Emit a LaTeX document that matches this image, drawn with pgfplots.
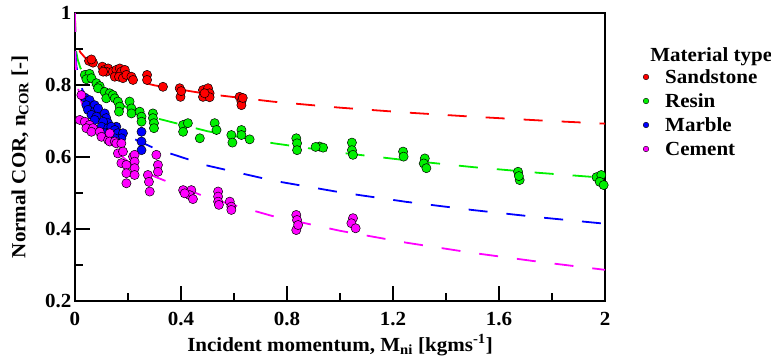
\documentclass[border=0pt]{standalone}
\usepackage{pgfplots}
\pgfplotsset{compat=1.18}
\usepackage{fontspec}
\setmainfont[FakeStretch=1.05]{Liberation Serif}
\definecolor{cR}{RGB}{255,0,0}
\definecolor{cG}{RGB}{0,240,0}
\definecolor{cB}{RGB}{0,0,255}
\definecolor{cM}{RGB}{255,0,255}
\newcommand{\lfont}{\fontsize{20}{24}\selectfont\bfseries}
\tikzset{
  legdot/.style={circle, draw=black, line width=0.4pt, inner sep=0pt, minimum size=5.6pt},
  legtxt/.style={anchor=west, inner sep=0pt, font=\lfont},
}
\begin{document}
\begin{tikzpicture}
\begin{axis}[
  scale only axis, width=530pt, height=288pt,
  xmin=0, xmax=2, ymin=0.2, ymax=1,
  xtick={0,0.4,0.8,1.2,1.6,2}, xticklabels={0,0.4,0.8,1.2,1.6,2},
  minor xtick={0.2,0.6,1.0,1.4,1.8},
  ytick={0.2,0.4,0.6,0.8,1}, yticklabels={0.2,0.4,0.6,0.8,1},
  minor ytick={0.3,0.5,0.7,0.9},
  tick align=inside, tick pos=left,
  major tick length=15pt, minor tick length=8pt,
  major tick style={line width=1.6pt, black},
  minor tick style={line width=1.6pt, black},
  axis line style={line width=1.6pt},
  tick label style={font=\lfont},
  xticklabel style={yshift=-8pt},
  xlabel={Incident momentum, M\textsubscript{ni} [kgms\textsuperscript{-1}]},
  ylabel={Normal COR, n\textsubscript{COR} [-]},
  every axis x label/.style={at={(axis description cs:0.5,-0.174)}, anchor=base, font=\lfont},
  every axis y label/.style={at={(axis description cs:-0.1038,0.5)}, rotate=90, anchor=center, font=\lfont},
  clip mode=individual,
  fitline/.style={line width=1.8pt, dash pattern=on 19pt off 19pt, forget plot},
]
\coordinate (SW) at (rel axis cs:0,0);
\coordinate (NE) at (rel axis cs:1,1);
% fitted curves
\addplot[fitline, color=cR] table {
0 1
0.001 0.9445
0.005 0.920
0.01 0.907
0.02 0.891
0.05 0.866
0.1 0.843
0.2 0.817
0.3 0.799
0.5 0.775
0.75 0.7535
1 0.737
1.25 0.7235
1.5 0.712
1.75 0.7017
2 0.6926
};
\addplot[fitline, color=cG] table {
0 1
0.001 0.926
0.005 0.891
0.01 0.8715
0.02 0.848
0.05 0.811
0.1 0.777
0.2 0.736
0.3 0.709
0.5 0.6715
0.75 0.638
1 0.612
1.25 0.591
1.5 0.572
1.75 0.556
2 0.542
};
\addplot[fitline, color=cB] table {
0 1
0.001 0.9004
0.005 0.855
0.01 0.830
0.02 0.800
0.05 0.752
0.1 0.709
0.2 0.658
0.3 0.624
0.5 0.576
0.75 0.534
1 0.502
1.25 0.4754
1.5 0.4527
1.75 0.4326
2 0.4147
};
\addplot[fitline, color=cM] table {
0 1
0.001 0.883
0.005 0.8285
0.01 0.798
0.02 0.7616
0.05 0.7034
0.1 0.650
0.2 0.5875
0.3 0.5458
0.5 0.487
0.75 0.435
1 0.395
1.25 0.362
1.5 0.3337
1.75 0.309
2 0.2865
};
% Sandstone
\addplot[only marks, mark=*, mark size=4.6pt, mark options={fill=cR, draw=black, line width=0.5pt}] table {
0.053 0.867
0.068 0.862
0.062 0.871
0.103 0.851
0.112 0.842
0.125 0.846
0.118 0.837
0.106 0.837
0.143 0.837
0.156 0.842
0.169 0.846
0.175 0.837
0.188 0.842
0.150 0.823
0.166 0.823
0.181 0.819
0.194 0.828
0.213 0.823
0.219 0.814
0.272 0.828
0.272 0.814
0.332 0.795
0.395 0.791
0.398 0.767
0.401 0.783
0.483 0.786
0.502 0.791
0.508 0.777
0.483 0.767
0.508 0.766
0.489 0.777
0.621 0.767
0.628 0.754
0.628 0.744
0.633 0.764
};
% Resin
\addplot[only marks, mark=*, mark size=4.6pt, mark options={fill=cG, draw=black, line width=0.5pt}] table {
0.037 0.828
0.055 0.831
0.043 0.816
0.062 0.819
0.081 0.805
0.093 0.797
0.087 0.791
0.112 0.781
0.131 0.777
0.118 0.763
0.143 0.772
0.150 0.763
0.162 0.754
0.169 0.740
0.166 0.726
0.206 0.754
0.213 0.735
0.213 0.721
0.244 0.726
0.251 0.712
0.251 0.698
0.294 0.721
0.294 0.708
0.298 0.694
0.298 0.680
0.408 0.689
0.426 0.694
0.408 0.670
0.471 0.652
0.527 0.694
0.534 0.675
0.590 0.661
0.594 0.640
0.628 0.675
0.628 0.661
0.659 0.649
0.835 0.652
0.838 0.638
0.838 0.619
0.923 0.629
0.936 0.626
0.908 0.628
1.045 0.640
1.045 0.619
1.049 0.606
1.238 0.615
1.240 0.601
1.320 0.596
1.316 0.582
1.326 0.569
1.672 0.559
1.678 0.536
1.675 0.547
1.968 0.544
1.986 0.550
1.980 0.531
1.995 0.522
};
% Marble
\addplot[only marks, mark=*, mark size=4.6pt, mark options={fill=cB, draw=black, line width=0.5pt}] table {
0.037 0.765
0.055 0.758
0.043 0.744
0.068 0.740
0.074 0.744
0.049 0.731
0.074 0.726
0.087 0.735
0.062 0.717
0.081 0.712
0.074 0.703
0.112 0.721
0.118 0.708
0.125 0.694
0.106 0.698
0.100 0.684
0.125 0.680
0.131 0.670
0.112 0.666
0.156 0.684
0.137 0.684
0.150 0.675
0.162 0.666
0.181 0.666
0.175 0.652
0.150 0.652
0.251 0.670
0.251 0.643
0.251 0.619
};
% Cement
\addplot[only marks, mark=*, mark size=4.6pt, mark options={fill=cM, draw=black, line width=0.5pt}] table {
0.024 0.772
0.018 0.703
0.037 0.698
0.055 0.689
0.043 0.680
0.068 0.680
0.062 0.670
0.093 0.670
0.100 0.656
0.125 0.647
0.131 0.666
0.131 0.643
0.150 0.643
0.156 0.638
0.175 0.638
0.162 0.610
0.181 0.615
0.175 0.583
0.194 0.578
0.194 0.555
0.194 0.527
0.219 0.601
0.225 0.606
0.225 0.587
0.225 0.569
0.225 0.550
0.275 0.550
0.279 0.531
0.282 0.504
0.307 0.606
0.313 0.578
0.313 0.559
0.408 0.508
0.439 0.508
0.433 0.494
0.445 0.483
0.414 0.499
0.540 0.504
0.540 0.490
0.540 0.476
0.543 0.467
0.584 0.476
0.590 0.462
0.590 0.453
0.835 0.439
0.838 0.425
0.835 0.397
0.842 0.411
1.049 0.430
1.043 0.416
1.059 0.402
};
% legend
\node[legtxt] at (axis description cs:1.085,0.847) {Material type};
\node[legdot, fill=cR] at (axis description cs:1.0774,0.7778) {};
\node[legtxt] at (axis description cs:1.1132,0.7778) {Sandstone};
\node[legdot, fill=cG] at (axis description cs:1.0774,0.6944) {};
\node[legtxt] at (axis description cs:1.1132,0.6944) {Resin};
\node[legdot, fill=cB] at (axis description cs:1.0774,0.6111) {};
\node[legtxt] at (axis description cs:1.1132,0.6111) {Marble};
\node[legdot, fill=cM] at (axis description cs:1.0774,0.5278) {};
\node[legtxt] at (axis description cs:1.1132,0.5278) {Cement};
\end{axis}
\pgfresetboundingbox
\path ([xshift=-75pt,yshift=-57pt]SW) rectangle ([xshift=166pt,yshift=13pt]NE);
\end{tikzpicture}
\end{document}
